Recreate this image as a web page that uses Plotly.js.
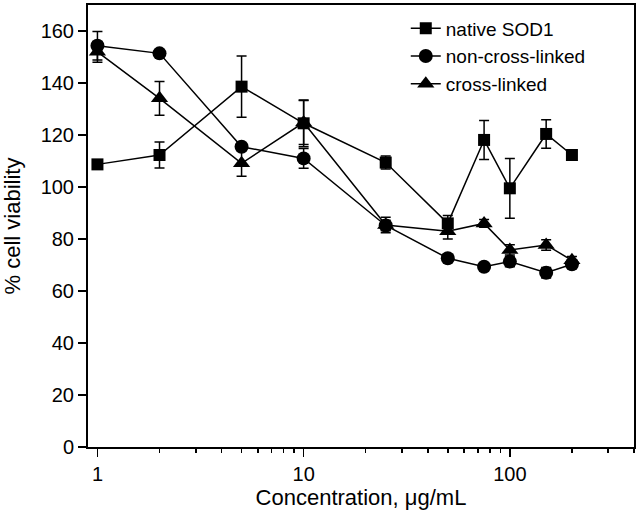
<!DOCTYPE html>
<html>
<head>
<meta charset="utf-8">
<script src="https://cdn.plot.ly/plotly-3.0.1.min.js"></script>
<style>html,body{margin:0;padding:0;background:#fff;}#chart{width:641px;height:519px;}</style>
</head>
<body>
<div id="chart"></div>
<script>
const concentration = [1, 2, 5, 10, 25, 50, 75, 100, 150, 200];

const nativeSOD1 = [108.7, 112.3, 138.6, 124.5, 109.4, 86.0, 118.1, 99.5, 120.4, 112.3];
const nativeErr = [1.5, 5.0, 11.8, 9.0, 2.5, 3.0, 7.5, 11.5, 5.5, 1.5];

const nonCrossLinked = [154.3, 151.4, 115.5, 111.0, 85.2, 72.6, 69.3, 71.3, 67.0, 70.3];
const nonCrossErr = [5.5, 1.0, 1.0, 3.8, 2.0, 1.0, 1.0, 2.0, 2.0, 1.5];

const crossLinked = [152.0, 134.1, 109.1, 124.8, 85.4, 83.0, 86.0, 75.8, 77.7, 71.8];
const crossErr = [4.0, 6.5, 5.0, 8.5, 3.0, 3.0, 1.5, 2.0, 2.0, 1.5];

const xTickVals = [1, 10, 100];
const xTickText = ['1', '10', '100'];
const xMinorVals = [2, 3, 4, 5, 6, 7, 8, 9, 20, 30, 40, 50, 60, 70, 80, 90, 200, 300, 400];

const seriesNames = ['native SOD1', 'non-cross-linked', 'cross-linked'];

function trace(name, y, err, symbol, size) {
  return {
    x: concentration, y: y, name: name, type: 'scatter', mode: 'lines+markers',
    line: {color: '#000', width: 1.5},
    marker: {symbol: symbol, size: size, color: '#000'},
    error_y: {type: 'data', array: err, visible: true, color: '#000', thickness: 1.5, width: 5}
  };
}

const data = [
  trace(seriesNames[0], nativeSOD1, nativeErr, 'square', 12),
  trace(seriesNames[1], nonCrossLinked, nonCrossErr, 'circle', 14),
  trace(seriesNames[2], crossLinked, crossErr, 'triangle-up', 15)
];

const layout = {
  width: 641, height: 519,
  margin: {l: 88, r: 7, t: 5, b: 72},
  paper_bgcolor: '#fff', plot_bgcolor: '#fff',
  font: {family: 'Liberation Sans, Arial, sans-serif', color: '#000', size: 20},
  showlegend: true,
  legend: {x: 0.582, y: 0.99, xanchor: 'left', yanchor: 'top',
    bgcolor: 'rgba(0,0,0,0)', font: {size: 19}, tracegroupgap: 0},
  xaxis: {
    type: 'log', range: [Math.log10(0.9), Math.log10(400)],
    tickvals: xTickVals, ticktext: xTickText,
    ticks: 'outside', ticklen: 8, tickwidth: 1.5, tickcolor: '#000',
    minor: {tickvals: xMinorVals, ticks: 'outside', ticklen: 4, tickwidth: 1.5, tickcolor: '#000'},
    showline: true, linecolor: '#000', linewidth: 2, mirror: true,
    showgrid: false, zeroline: false,
    tickfont: {size: 20},
    title: {text: 'Concentration, μg/mL', font: {size: 22}, standoff: 4}
  },
  yaxis: {
    range: [0, 170], dtick: 20, tick0: 0,
    ticks: 'outside', ticklen: 8, tickwidth: 1.5, tickcolor: '#000',
    showline: true, linecolor: '#000', linewidth: 2, mirror: true,
    showgrid: false, zeroline: false,
    tickfont: {size: 20},
    title: {text: '% cell viability', font: {size: 22}, standoff: 14}
  }
};

Plotly.newPlot('chart', data, layout, {staticPlot: true, displayModeBar: false});
</script>
</body>
</html>
